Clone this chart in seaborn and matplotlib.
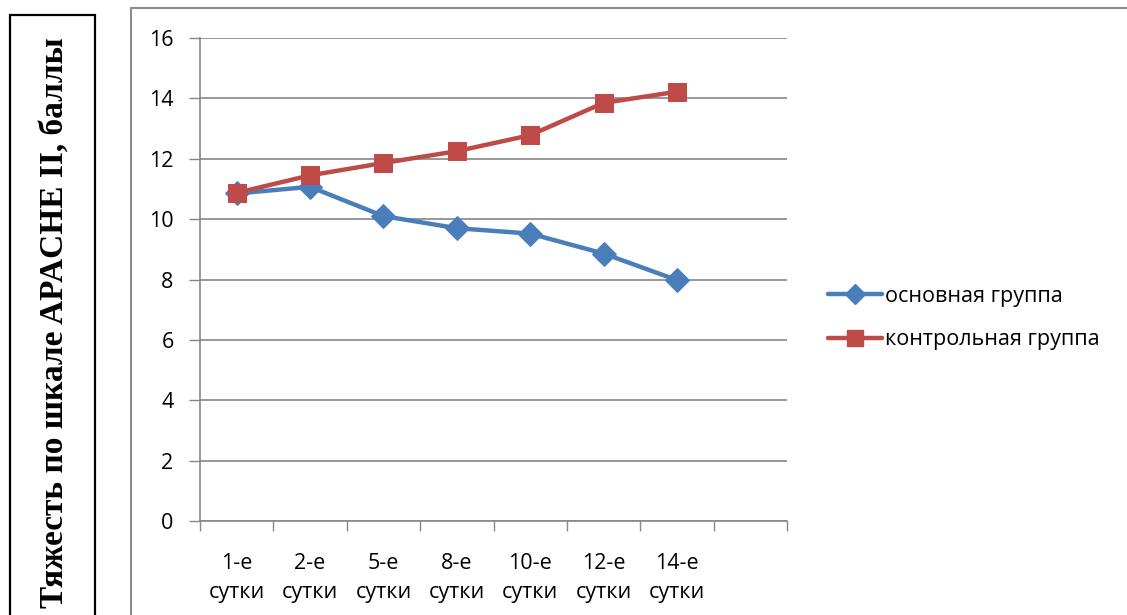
import pandas as pd
import matplotlib.pyplot as plt
import seaborn as sns
from matplotlib.patches import Rectangle
from matplotlib.lines import Line2D

# ------------------ DATOS ------------------
dias = ["1-е\nсутки", "2-е\nсутки", "5-е\nсутки", "8-е\nсутки",
        "10-е\nсутки", "12-е\nсутки", "14-е\nсутки"]
osnovnaya = [10.85, 11.07, 10.1, 9.7, 9.52, 8.86, 7.98]
kontrolnaya = [10.87, 11.45, 11.86, 12.25, 12.78, 13.85, 14.22]
serie_1 = "основная группа"
serie_2 = "контрольная группа"

color_azul = "#4A7EBB"
color_rojo = "#BE4B48"
gris = "#868686"

pos = list(range(len(dias)))
df = pd.DataFrame({
    "x": pos * 2,
    "y": osnovnaya + kontrolnaya,
    "grupo": [serie_1] * len(dias) + [serie_2] * len(dias),
})

# ------------------ GRAFICO ------------------
sns.set_theme(style="white")
plt.rcParams["font.family"] = ["Open Sans", "DejaVu Sans"]
plt.rcParams["text.color"] = "black"

fig = plt.figure(figsize=(11.27, 6.15), dpi=100)
ax = fig.add_axes([200 / 1127, 94 / 615, 587 / 1127, 483 / 615])

sns.lineplot(data=df[df["grupo"] == serie_1], x="x", y="y", ax=ax,
             color=color_azul, linewidth=3.2, marker="D", markersize=12,
             markeredgecolor=color_azul, label=serie_1, legend=False)
sns.lineplot(data=df[df["grupo"] == serie_2], x="x", y="y", ax=ax,
             color=color_rojo, linewidth=3.2, marker="s", markersize=13.5,
             markeredgecolor=color_rojo, label=serie_2, legend=False)

ax.set_xlim(-0.5, 7.5)
ax.set_ylim(0, 16)
ax.set_yticks(range(0, 17, 2))
ax.set_xticks(pos)
ax.set_xticklabels(dias, fontsize=15.5, linespacing=1.5)
ax.set_xticks([i - 0.5 for i in range(9)], minor=True)
ax.tick_params(axis="x", which="major", length=0, pad=23, labelcolor="black")
ax.tick_params(axis="x", which="minor", length=7, width=1, color=gris,
               direction="out", bottom=True)
ax.tick_params(axis="y", length=8, width=1, color=gris, direction="out",
               left=True, labelsize=15.5, pad=11, labelcolor="black")
ax.set_xlabel("")
ax.set_ylabel("")
ax.grid(axis="y", color=gris, linewidth=1.2)
ax.set_axisbelow(True)
for s in ["top", "right"]:
    ax.spines[s].set_visible(False)
for s in ["left", "bottom"]:
    ax.spines[s].set_color(gris)
    ax.spines[s].set_linewidth(1.2)

# leyenda
handles = [
    Line2D([], [], color=color_azul, linewidth=3.2, marker="D", markersize=10),
    Line2D([], [], color=color_rojo, linewidth=3.2, marker="s", markersize=12),
]
fig.legend(handles, [serie_1, serie_2], loc="center left",
           bbox_to_anchor=(809 / 1127, 1 - 318 / 615), frameon=False,
           fontsize=15.5, handlelength=2.5, handletextpad=0.15,
           labelspacing=1.05)

# marco del grafico
fig.add_artist(Rectangle((131 / 1127, -0.05), 1.0, 0.05 + (615 - 8) / 615,
                         transform=fig.transFigure, fill=False,
                         edgecolor="#8C8C8C", linewidth=1.5))

# rotulo del eje Y en recuadro
fig.add_artist(Rectangle((10 / 1127, -0.05), 85 / 1127, 0.05 + (615 - 15) / 615,
                         transform=fig.transFigure, fill=False,
                         edgecolor="black", linewidth=1.6))
fig.text(54 / 1127, 1 - 323 / 615, "Тяжесть по шкале APACHE II, баллы",
         rotation=90, ha="center", va="center", fontsize=24, color="black",
         fontweight="bold", family=["Liberation Serif", "DejaVu Serif"])

plt.savefig("out.png", dpi=100)
plt.close()
